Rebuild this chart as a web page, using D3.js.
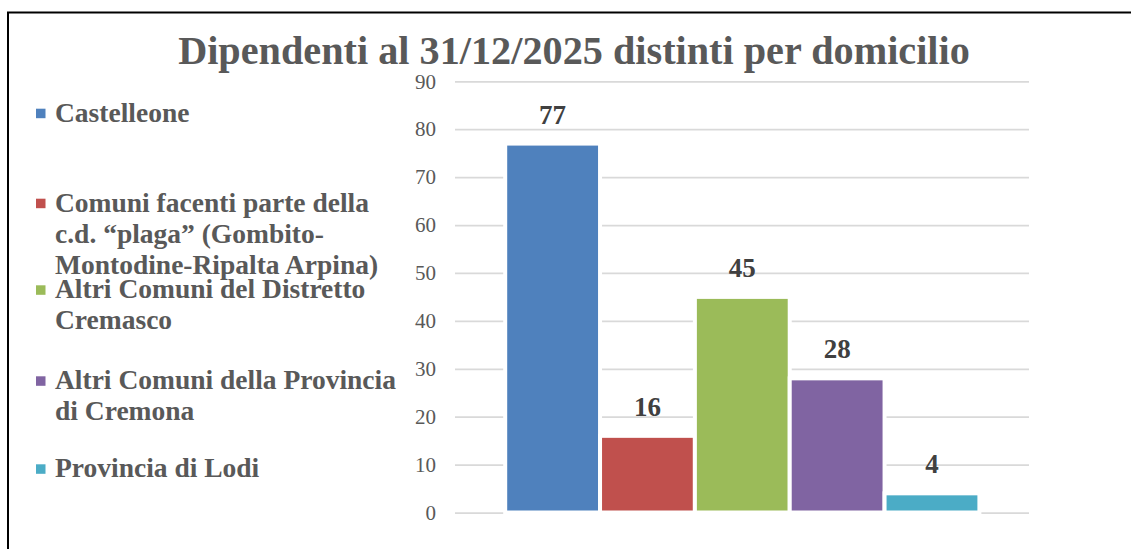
<!DOCTYPE html>
<html>
<head>
<meta charset="utf-8">
<script src="https://cdn.jsdelivr.net/npm/d3@7"></script>
<style>
  html, body { margin: 0; padding: 0; background: #fff; }
  svg { display: block; }
</style>
</head>
<body>
<div id="viz"></div>
<script>
// chart data
var title = "Dipendenti al 31/12/2025 distinti per domicilio";
var categories = [
  "Castelleone",
  "Comuni facenti parte della\nc.d. “plaga” (Gombito-\nMontodine-Ripalta Arpina)",
  "Altri Comuni del Distretto\nCremasco",
  "Altri Comuni della Provincia\ndi Cremona",
  "Provincia di Lodi"
];
var values = [77, 16, 45, 28, 4];
var colors = ["#4F81BD", "#C0504D", "#9BBB59", "#8064A2", "#4BACC6"];
var yTicks = [0, 10, 20, 30, 40, 50, 60, 70, 80, 90];

var W = 1131, H = 549;
var font = "'Liberation Serif', 'Times New Roman', serif";

var svg = d3.select("#viz").append("svg")
  .attr("width", W)
  .attr("height", H);

// outer frame (only top and left edges are inside the picture)
svg.append("rect")
  .attr("x", 8).attr("y", 12.5)
  .attr("width", W + 20).attr("height", H + 20)
  .attr("fill", "none")
  .attr("stroke", "#000")
  .attr("stroke-width", 2);

// scales
var plotLeft = 455, plotRight = 1029;
var y = d3.scaleLinear().domain([0, 90]).range([512.5, 81.3]);
var x = d3.scaleBand().domain(categories).range([505.2, 979.4]).padding(0);

// y axis with gridlines
var yAxis = svg.append("g")
  .attr("transform", "translate(" + plotLeft + ",0)")
  .call(d3.axisLeft(y).tickValues(yTicks).tickSize(-(plotRight - plotLeft)).tickPadding(19));
yAxis.select(".domain").remove();
yAxis.selectAll(".tick line")
  .attr("stroke", "#d9d9d9")
  .attr("stroke-width", 1.75);
yAxis.selectAll(".tick text")
  .style("font-family", font)
  .style("font-size", "21px")
  .attr("fill", "#595959");

// title
var t = svg.append("text")
  .attr("x", 574).attr("y", 64)
  .attr("text-anchor", "middle")
  .style("font-family", font)
  .style("font-weight", "bold")
  .style("font-size", "38px")
  .attr("fill", "#595959")
  .text(title);
// fit to the width of the original title
var tw = t.node().getComputedTextLength();
t.style("font-size", (38 * 792 / tw) + "px");

// bars
svg.append("g")
  .selectAll("rect")
  .data(values)
  .enter().append("rect")
    .attr("x", function(d, i) { return x(categories[i]); })
    .attr("y", function(d) { return y(d); })
    .attr("width", x.bandwidth())
    .attr("height", function(d) { return y(0) - y(d); })
    .attr("fill", function(d, i) { return colors[i]; })
    .attr("stroke", "#fff")
    .attr("stroke-width", 4);

// value labels
svg.append("g")
  .selectAll("text")
  .data(values)
  .enter().append("text")
    .attr("x", function(d, i) { return x(categories[i]) + x.bandwidth() / 2; })
    .attr("y", function(d) { return y(d) - 20; })
    .attr("text-anchor", "middle")
    .style("font-family", font)
    .style("font-weight", "bold")
    .style("font-size", "27px")
    .attr("fill", "#404040")
    .text(function(d) { return d; });

// legend
var legendY = [121.7, 211.7, 298.3, 389.3, 477.3];
var lineGap = 31;
var legend = svg.append("g");
categories.forEach(function(c, i) {
  legend.append("rect")
    .attr("x", 36).attr("y", legendY[i] - 13)
    .attr("width", 9.5).attr("height", 9.5)
    .attr("fill", colors[i]);
  var txt = legend.append("text")
    .attr("x", 55).attr("y", legendY[i])
    .style("font-family", font)
    .style("font-weight", "bold")
    .style("font-size", "27.5px")
    .attr("fill", "#595959");
  c.split("\n").forEach(function(line, j) {
    txt.append("tspan")
      .attr("x", 55)
      .attr("y", legendY[i] + j * lineGap)
      .text(line);
  });
});
</script>
</body>
</html>
